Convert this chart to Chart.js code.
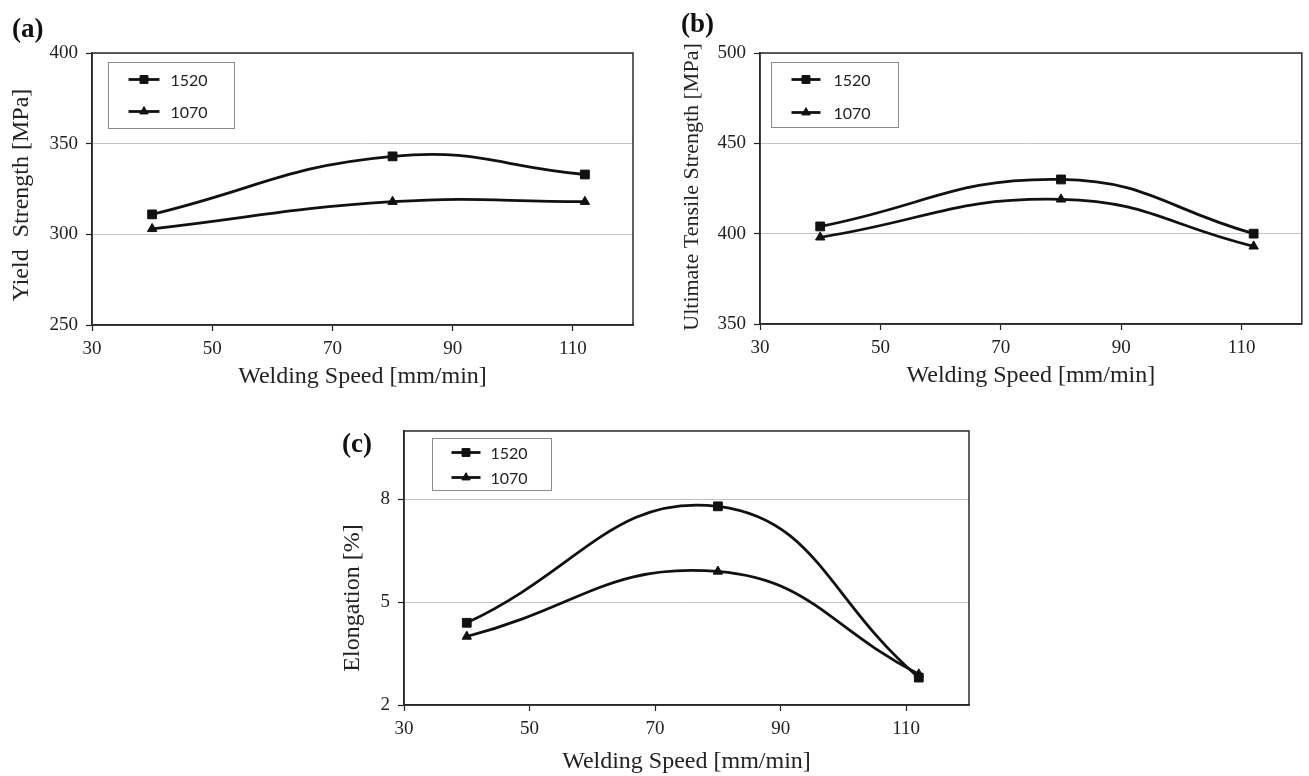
<!DOCTYPE html>
<html>
<head>
<meta charset="utf-8">
<title>Welding speed vs. mechanical properties</title>
<script src="https://cdn.jsdelivr.net/npm/chart.js@4.4.1/dist/chart.umd.min.js"></script>
<style>
    body { margin: 0; background: #fff; }
    #page { position: relative; width: 1309px; height: 776px; overflow: hidden; }
    canvas { position: absolute; }
    .tag { position: absolute; font: bold 27px 'Liberation Serif', 'Times New Roman', serif; color: #111; line-height: 1; }
</style>
</head>
<body>
<div id="page">
    <canvas id="chart-a" width="650" height="400" style="left:0;top:0"></canvas>
    <canvas id="chart-b" width="649" height="400" style="left:660px;top:0"></canvas>
    <canvas id="chart-c" width="660" height="376" style="left:330px;top:400px"></canvas>
    <div class="tag" style="left:12px;top:15px">(a)</div>
    <div class="tag" style="left:681px;top:10px">(b)</div>
    <div class="tag" style="left:342px;top:430px">(c)</div>
</div>
<script>
// values
const seriesLabels = ['1520', '1070'];
const speeds = [40, 80, 112];
const xTicks = [30, 50, 70, 90, 110];

const yield1520 = [311, 343, 333];
const yield1070 = [303, 318, 318];
const yieldTicks = [250, 300, 350, 400];

const uts1520 = [404, 430, 400];
const uts1070 = [398, 419, 393];
const utsTicks = [350, 400, 450, 500];

const elong1520 = [4.4, 7.8, 2.8];
const elong1070 = [4.0, 5.9, 2.9];
const elongTicks = [2, 5, 8];

const serif = "'Liberation Serif', 'Times New Roman', serif";
const tickFont = { family: serif, size: 19 };
const titleFont = { family: serif, size: 24 };

// box around the whole plot area
const frame = {
    id: 'frame',
    beforeDatasetsDraw(chart) {
        const { ctx, chartArea: a } = chart;
        ctx.save();
        ctx.strokeStyle = '#2a2a2a';
        ctx.lineWidth = 1.5;
        ctx.strokeRect(a.left, a.top, a.right - a.left, a.bottom - a.top);
        ctx.restore();
    }
};

function marker(ctx, style, x, y, r) {
    ctx.beginPath();
    if (style === 'rect') {
        const h = r * Math.SQRT1_2;
        ctx.rect(x - h, y - h, 2 * h, 2 * h);
    } else {
        ctx.moveTo(x, y - r);
        ctx.lineTo(x + r * 0.866, y + r * 0.5);
        ctx.lineTo(x - r * 0.866, y + r * 0.5);
        ctx.closePath();
    }
    ctx.fill();
    ctx.stroke();
}

// legend in a grey box inside the plot area
const boxLegend = {
    id: 'boxLegend',
    afterDraw(chart, args, o) {
        const { ctx, chartArea: a } = chart;
        const x0 = Math.round(a.left + o.left) + 0.5, y0 = Math.round(a.top + o.top) + 0.5;
        ctx.save();
        ctx.fillStyle = '#fff';
        ctx.fillRect(x0, y0, o.width, o.height);
        ctx.strokeStyle = '#8c8c8c';
        ctx.lineWidth = 1;
        ctx.strokeRect(x0, y0, o.width, o.height);
        chart.data.datasets.forEach((ds, i) => {
            const y = y0 + o.firstRow + i * o.rowGap;
            const lx = x0 + o.lineStart;
            ctx.strokeStyle = ds.borderColor;
            ctx.lineWidth = 2.8;
            ctx.beginPath();
            ctx.moveTo(lx, y);
            ctx.lineTo(lx + o.lineLength, y);
            ctx.stroke();
            ctx.fillStyle = ds.pointBackgroundColor;
            ctx.lineWidth = 1;
            marker(ctx, ds.pointStyle, lx + o.lineLength / 2, y, ds.pointRadius * 0.9);
            ctx.fillStyle = '#222';
            ctx.font = "16px Lato, 'Open Sans', sans-serif";
            ctx.textAlign = 'left';
            ctx.textBaseline = 'middle';
            ctx.fillText(ds.label, lx + o.lineLength + o.textGap, y + 1);
        });
        ctx.restore();
    }
};

// rotated y title placed freely (Excel puts it off-centre in panel c)
const sideTitle = {
    id: 'sideTitle',
    afterDraw(chart, args, o) {
        const ctx = chart.ctx;
        ctx.save();
        ctx.translate(o.x, o.y);
        ctx.rotate(-Math.PI / 2);
        ctx.fillStyle = '#222';
        ctx.font = (o.size || titleFont.size) + 'px ' + serif;
        ctx.textAlign = 'center';
        ctx.textBaseline = 'middle';
        ctx.fillText(o.text, 0, 0);
        ctx.restore();
    }
};

function series(label, values, style, radius) {
    return {
        label: label,
        data: speeds.map((s, i) => ({ x: s, y: values[i] })),
        borderColor: '#111',
        borderWidth: 2.8,
        tension: 0.45,
        pointStyle: style,
        pointRadius: radius,
        pointBackgroundColor: '#111',
        pointBorderColor: '#111',
        pointBorderWidth: 1
    };
}

function buildChart(id, s) {
    return new Chart(document.getElementById(id), {
        type: 'line',
        data: {
            datasets: [
                series(seriesLabels[0], s.v1520, 'rect', 6.2),
                series(seriesLabels[1], s.v1070, 'triangle', 5.4)
            ]
        },
        options: {
            responsive: false,
            animation: false,
            layout: { padding: s.pad },
            plugins: {
                legend: { display: false },
                tooltip: { enabled: false },
                boxLegend: s.legend,
                sideTitle: s.yTitle
            },
            scales: {
                x: {
                    type: 'linear',
                    min: 30,
                    max: 120,
                    afterBuildTicks: sc => { sc.ticks = xTicks.map(v => ({ value: v })); },
                    afterFit: sc => { sc.height = s.xH; },
                    grid: { drawOnChartArea: false, tickLength: 6, tickColor: '#222', tickWidth: 1.2 },
                    border: { color: '#222', width: 1.5 },
                    ticks: { color: '#222', font: tickFont, padding: 7, maxRotation: 0 },
                    title: { display: true, text: 'Welding Speed [mm/min]', color: '#222', font: titleFont, padding: 0 }
                },
                y: {
                    type: 'linear',
                    min: s.yTicks[0],
                    max: s.yMax,
                    afterBuildTicks: sc => { sc.ticks = s.yTicks.map(v => ({ value: v })); },
                    afterFit: sc => { sc.width = s.yW; },
                    grid: { color: '#c4c4c4', lineWidth: 1, tickLength: 6, tickColor: '#222', tickWidth: 1.2 },
                    border: { color: '#222', width: 1.5 },
                    ticks: { color: '#222', font: tickFont, padding: 8 }
                }
            }
        },
        plugins: [frame, boxLegend, sideTitle]
    });
}

buildChart('chart-a', {
    v1520: yield1520, v1070: yield1070,
    yTicks: yieldTicks, yMax: 400,
    pad: { left: 0, top: 53, right: 17, bottom: 9 },
    xH: 66, yW: 92,
    yTitle: { text: 'Yield  Strength [MPa]', x: 22, y: 195 },
    legend: { left: 16, top: 9, width: 126, height: 66, firstRow: 17, rowGap: 32, lineStart: 20, lineLength: 31, textGap: 11 }
});

buildChart('chart-b', {
    v1520: uts1520, v1070: uts1070,
    yTicks: utsTicks, yMax: 500,
    pad: { left: 0, top: 53, right: 7, bottom: 10 },
    xH: 66, yW: 100,
    yTitle: { text: 'Ultimate Tensile Strength [MPa]', x: 32, y: 187, size: 22 },
    legend: { left: 11, top: 9, width: 127, height: 65, firstRow: 17, rowGap: 33, lineStart: 20, lineLength: 29, textGap: 13 }
});

buildChart('chart-c', {
    v1520: elong1520, v1070: elong1070,
    yTicks: elongTicks, yMax: 10,
    pad: { left: 0, top: 31, right: 21, bottom: 0 },
    xH: 71, yW: 74,
    yTitle: { text: 'Elongation [%]', x: 23, y: 198 },
    legend: { left: 28, top: 7, width: 119, height: 52, firstRow: 14, rowGap: 25, lineStart: 19, lineLength: 29, textGap: 10 }
});
</script>
</body>
</html>
